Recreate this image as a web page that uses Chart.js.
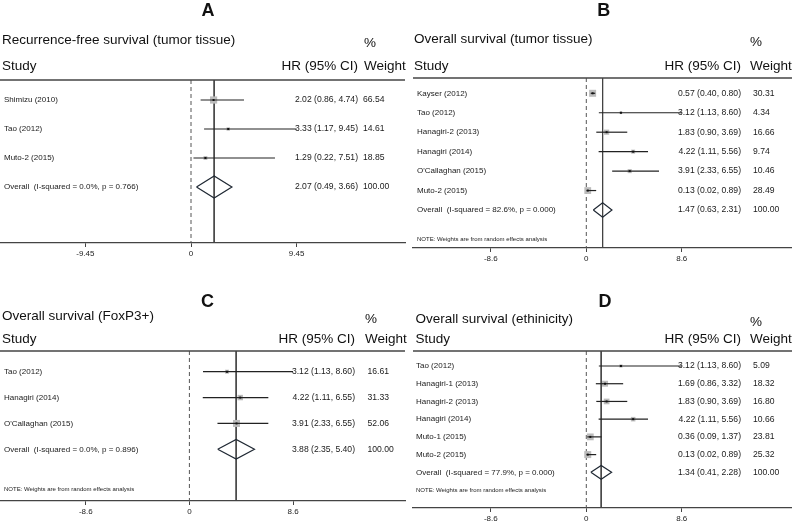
<!DOCTYPE html>
<html>
<head>
<meta charset="utf-8">
<script src="https://cdn.jsdelivr.net/npm/chart.js@4.4.0/dist/chart.umd.min.js"></script>
<style>
html,body{margin:0;padding:0;background:#fff;}
#wrap{position:relative;width:792px;height:521px;overflow:hidden;}
#wrap canvas{position:absolute;left:0;top:0;}
</style>
</head>
<body>
<div id="wrap">
  <canvas id="panelA" width="792" height="521"></canvas>
  <canvas id="panelB" width="792" height="521"></canvas>
  <canvas id="panelC" width="792" height="521"></canvas>
  <canvas id="panelD" width="792" height="521"></canvas>
</div>
<script>
// A - recurrence-free survival (tumor tissue)
const aStudies = ["Shimizu (2010)", "Tao (2012)", "Muto-2 (2015)"];
const aHR = [2.02, 3.33, 1.29];
const aLo = [0.86, 1.17, 0.22];
const aHi = [4.74, 9.45, 7.51];
const aWeight = [66.54, 14.61, 18.85];
const aOverall = [2.07, 0.49, 3.66];
const aOverallLabel = "Overall  (I-squared = 0.0%, p = 0.766)";
const aTicks = [-9.45, 0, 9.45];

// B - overall survival (tumor tissue)
const bStudies = ["Kayser (2012)", "Tao (2012)", "Hanagiri-2 (2013)", "Hanagiri (2014)", "O'Callaghan (2015)", "Muto-2 (2015)"];
const bHR = [0.57, 3.12, 1.83, 4.22, 3.91, 0.13];
const bLo = [0.40, 1.13, 0.90, 1.11, 2.33, 0.02];
const bHi = [0.80, 8.60, 3.69, 5.56, 6.55, 0.89];
const bWeight = [30.31, 4.34, 16.66, 9.74, 10.46, 28.49];
const bOverall = [1.47, 0.63, 2.31];
const bOverallLabel = "Overall  (I-squared = 82.6%, p = 0.000)";
const bTicks = [-8.6, 0, 8.6];

// C - overall survival (FoxP3+)
const cStudies = ["Tao (2012)", "Hanagiri (2014)", "O'Callaghan (2015)"];
const cHR = [3.12, 4.22, 3.91];
const cLo = [1.13, 1.11, 2.33];
const cHi = [8.60, 6.55, 6.55];
const cWeight = [16.61, 31.33, 52.06];
const cOverall = [3.88, 2.35, 5.40];
const cOverallLabel = "Overall  (I-squared = 0.0%, p = 0.896)";
const cTicks = [-8.6, 0, 8.6];

// D - overall survival (ethinicity)
const dStudies = ["Tao (2012)", "Hanagiri-1 (2013)", "Hanagiri-2 (2013)", "Hanagiri (2014)", "Muto-1 (2015)", "Muto-2 (2015)"];
const dHR = [3.12, 1.69, 1.83, 4.22, 0.36, 0.13];
const dLo = [1.13, 0.86, 0.90, 1.11, 0.09, 0.02];
const dHi = [8.60, 3.32, 3.69, 5.56, 1.37, 0.89];
const dWeight = [5.09, 18.32, 16.80, 10.66, 23.81, 25.32];
const dOverall = [1.34, 0.41, 2.28];
const dOverallLabel = "Overall  (I-squared = 77.9%, p = 0.000)";
const dTicks = [-8.6, 0, 8.6];

const noteText = "NOTE: Weights are from random effects analysis";
const FONT = '"Liberation Sans", Arial, Helvetica, sans-serif';
const W = 792, H = 521, AXIS_H = 20;

function f2(n){ return n.toFixed(2); }
function ciText(h,l,u){ return f2(h) + " (" + f2(l) + ", " + f2(u) + ")"; }

function forest(id, d, box){
  const n = d.studies.length;
  const yMin = 1 + (box.top - box.row1) / box.step;
  const yMax = 1 + (box.bottom - box.row1) / box.step;
  const xMin = (box.left - box.zero) / box.ppu;
  const xMax = (box.right - box.zero) / box.ppu;
  const maxW = Math.max(...d.weight);
  const oy = n + 1;
  const [oh, ol, ou] = d.overall;

  const datasets = [
    // null line and overall estimate line
    {data:[{x:0,y:yMin},{x:0,y:yMax}], showLine:true, borderColor:"#555", borderWidth:1, borderDash:[4,3], pointRadius:0, order:5},
    {data:[{x:oh,y:yMin},{x:oh,y:yMax}], showLine:true, borderColor:"#444", borderWidth:1, pointRadius:0, order:5},
    // weight boxes
    {data:d.hr.map((v,i)=>({x:v,y:i+1})), pointStyle:"rect",
     pointRadius:d.weight.map(w=>box.boxSide*Math.sqrt(w/maxW)/Math.SQRT2),
     backgroundColor:"#bcbcbc", borderWidth:0, order:3},
    // point estimates
    {data:d.hr.map((v,i)=>({x:v,y:i+1})), pointStyle:"rect", pointRadius:1.4,
     backgroundColor:"#111", borderWidth:0, order:0},
    // overall diamond
    {data:[{x:ol,y:oy},{x:oh,y:oy-box.dh},{x:ou,y:oy},{x:oh,y:oy+box.dh},{x:ol,y:oy}],
     showLine:true, borderColor:"#1f2833", borderWidth:1.2, pointRadius:0, fill:false, order:1}
  ];
  // confidence intervals
  d.studies.forEach((s,i)=>{
    datasets.push({data:[{x:d.lo[i],y:i+1},{x:d.hi[i],y:i+1}], showLine:true,
      borderColor:"#222", borderWidth:1.2, pointRadius:0, order:2});
  });

  const textPlugin = {
    id:"forestText",
    afterDraw(chart){
      const ctx = chart.ctx, ys = chart.scales.y, ca = chart.chartArea;
      ctx.save();
      ctx.fillStyle = "#111";
      ctx.textBaseline = "alphabetic";
      ctx.font = "bold 18px " + FONT;
      ctx.textAlign = "center";
      ctx.fillText(d.letter, box.letterX, box.letterY);
      ctx.font = "13.5px " + FONT;
      ctx.textAlign = "left";
      ctx.fillText(d.title, box.titleX, box.titleY);
      ctx.fillText("%", box.pctX, box.pctY);
      ctx.fillText("Study", box.titleX, box.headY);
      ctx.fillText("Weight", box.pctX, box.headY);
      ctx.textAlign = "right";
      ctx.fillText("HR (95% CI)", box.hrX, box.headY);
      // top rule
      ctx.strokeStyle = "#444";
      ctx.lineWidth = 1.3;
      ctx.beginPath();
      ctx.moveTo(ca.left, ca.top); ctx.lineTo(ca.right, ca.top);
      ctx.stroke();
      // rows
      ctx.textBaseline = "middle";
      ctx.fillStyle = "#1a1a1a";
      const small = "8px " + FONT, nums = "8.6px " + FONT;
      d.studies.forEach((s,i)=>{
        const y = ys.getPixelForValue(i+1);
        ctx.textAlign = "left";
        ctx.font = small;
        ctx.fillText(s, box.labelX, y);
        ctx.font = nums;
        ctx.fillText(f2(d.weight[i]), box.valX, y);
        ctx.textAlign = "right";
        ctx.fillText(ciText(d.hr[i], d.lo[i], d.hi[i]), box.hrX, y);
      });
      const y = ys.getPixelForValue(oy);
      ctx.textAlign = "left";
      ctx.font = small;
      ctx.fillText(d.overallLabel, box.labelX, y);
      ctx.font = nums;
      ctx.fillText("100.00", box.valX, y);
      ctx.textAlign = "right";
      ctx.fillText(ciText(oh, ol, ou), box.hrX, y);
      if (d.note){
        ctx.textAlign = "left";
        ctx.font = "6px " + FONT;
        ctx.fillText(d.note, box.labelX, box.noteY);
      }
      ctx.restore();
    }
  };

  return new Chart(document.getElementById(id), {
    type:"scatter",
    data:{datasets},
    options:{
      responsive:false, animation:false, devicePixelRatio:1,
      layout:{autoPadding:false, padding:{left:box.left, right:W-box.right, top:box.top, bottom:H-box.bottom-AXIS_H}},
      plugins:{legend:{display:false}, tooltip:{enabled:false}},
      scales:{
        x:{type:"linear", min:xMin, max:xMax,
          afterBuildTicks:s=>{ s.ticks = d.ticks.map(v=>({value:v})); },
          afterFit:s=>{ s.height = AXIS_H; },
          ticks:{callback:v=>String(v), font:{family:FONT,size:8}, color:"#222", padding:2, maxRotation:0, autoSkip:false},
          grid:{drawOnChartArea:false, drawTicks:true, tickLength:4, color:"#444", tickWidth:1},
          border:{color:"#444", width:1.3}},
        y:{type:"linear", display:false, reverse:true, min:yMin, max:yMax}
      }
    },
    plugins:[textPlugin]
  });
}

forest("panelA",
  {letter:"A", title:"Recurrence-free survival (tumor tissue)", studies:aStudies, hr:aHR, lo:aLo, hi:aHi, weight:aWeight, overall:aOverall, overallLabel:aOverallLabel, ticks:aTicks, note:null},
  {left:0, right:405, top:80, bottom:243, zero:191, ppu:11.18, row1:100, step:29, boxSide:7.2, dh:0.38,
   letterX:208, letterY:16, titleX:2, titleY:43.5, pctX:364, pctY:46.5, headY:69.5, hrX:358, labelX:4, valX:363});

forest("panelB",
  {letter:"B", title:"Overall survival (tumor tissue)", studies:bStudies, hr:bHR, lo:bLo, hi:bHi, weight:bWeight, overall:bOverall, overallLabel:bOverallLabel, ticks:bTicks, note:noteText},
  {left:413, right:792, top:78, bottom:248, zero:586.3, ppu:11.1, row1:93.3, step:19.45, boxSide:7, dh:0.37,
   letterX:603.7, letterY:16, titleX:414, titleY:43, pctX:750, pctY:45.5, headY:70, hrX:741, labelX:417, valX:753, noteY:239.3});

forest("panelC",
  {letter:"C", title:"Overall survival (FoxP3+)", studies:cStudies, hr:cHR, lo:cLo, hi:cHi, weight:cWeight, overall:cOverall, overallLabel:cOverallLabel, ticks:cTicks, note:noteText},
  {left:0, right:405, top:351, bottom:501, zero:189.4, ppu:12.05, row1:371.7, step:25.87, boxSide:7, dh:0.38,
   letterX:207.5, letterY:306.5, titleX:2, titleY:320, pctX:365, pctY:322.5, headY:343.3, hrX:355, labelX:4, valX:367.5, noteY:489.3});

forest("panelD",
  {letter:"D", title:"Overall survival (ethinicity)", studies:dStudies, hr:dHR, lo:dLo, hi:dHi, weight:dWeight, overall:dOverall, overallLabel:dOverallLabel, ticks:dTicks, note:noteText},
  {left:413, right:792, top:351, bottom:508, zero:586.3, ppu:11.1, row1:366, step:17.72, boxSide:7, dh:0.39,
   letterX:605, letterY:306.5, titleX:415.5, titleY:323, pctX:750, pctY:326, headY:343.3, hrX:741, labelX:416, valX:753, noteY:490});
</script>
</body>
</html>
